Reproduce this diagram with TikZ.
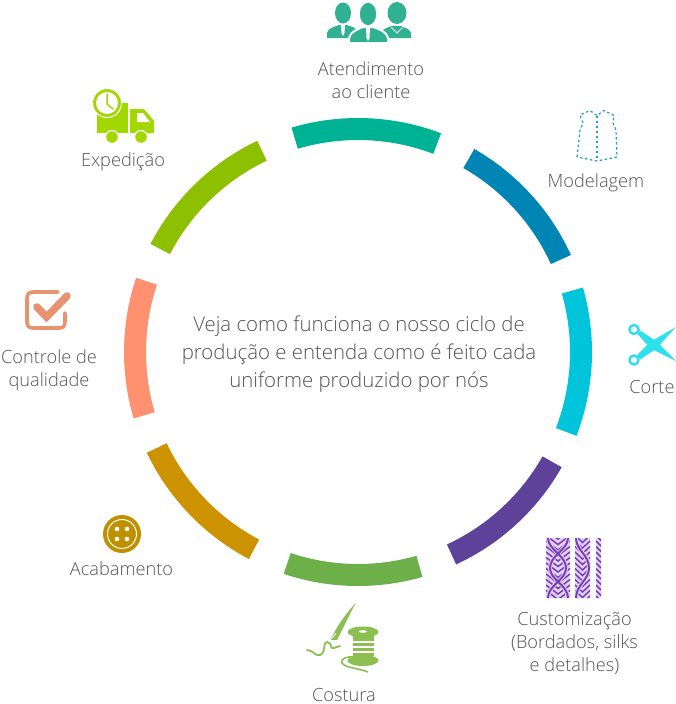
\documentclass[tikz,border=0pt]{standalone}
\usepackage{fontspec}
\setmainfont{Open Sans Light}
\definecolor{cteal}{HTML}{00B294}
\definecolor{cblue}{HTML}{0085B5}
\definecolor{ccyan}{HTML}{00C4D9}
\definecolor{cpurple}{HTML}{5E4299}
\definecolor{cgreen}{HTML}{6DB04A}
\definecolor{cgold}{HTML}{CC9200}
\definecolor{corange}{HTML}{FF9070}
\definecolor{clime}{HTML}{8CC000}
\definecolor{ipeople}{HTML}{30B292}
\definecolor{itruck}{HTML}{A2D800}
\definecolor{ipat}{HTML}{1AA3C8}
\definecolor{iscis}{HTML}{2CE0EE}
\definecolor{ifab}{HTML}{7A3DB8}
\definecolor{ifabl}{HTML}{E2D2F2}
\definecolor{ispool}{HTML}{8CBF50}
\definecolor{ibtn}{HTML}{BF9000}
\definecolor{icheck}{HTML}{E8936F}
\definecolor{txt}{HTML}{555555}
\tikzset{
  lab/.style={text=txt,font=\fontsize{18.2}{23}\selectfont,align=center,inner sep=0pt},
  mid/.style={text=txt,font=\fontsize{20.4}{28}\selectfont,align=center,inner sep=0pt},
}
\newcommand{\ringseg}[3]{%
  \fill[#3] (#1:234) arc[start angle=#1,end angle=#2,radius=234]
    -- (#2:212) arc[start angle=#2,end angle=#1,radius=212] -- cycle;}
\begin{document}
\begin{tikzpicture}[x=1pt,y=-1pt]
\useasboundingbox (0,0) rectangle (676,704);
\fill[white] (0,0) rectangle (676,704);
% ring
\begin{scope}[shift={(358,352)},y=1pt]
\ringseg{106.5}{69.2}{cteal}
\ringseg{60.2}{24.5}{cblue}
\ringseg{16}{-21}{ccyan}
\ringseg{-29.5}{-65.2}{cpurple}
\ringseg{-74}{-108.5}{cgreen}
\ringseg{-117.8}{-154.5}{cgold}
\ringseg{196.5}{161.5}{corange}
\ringseg{152.5}{115.5}{clime}
\end{scope}
% centre text
\node[mid] (centre) at (359,354) {Veja como funciona o nosso ciclo de\\produção e entenda como é feito cada\\uniforme produzido por nós};
% labels
\node[lab] (l1) at (371,80) {Atendimento\\ao cliente};
\node[lab] (l2) at (596,182.5) {Modelagem};
\node[lab] (l3) at (652,387) {Corte};
\node[lab] (l4) at (574.5,643.5) {Customização\\(Bordados, silks\\e detalhes)};
\node[lab] (l5) at (344,694.5) {Costura};
\node[lab] (l6) at (121.5,569) {Acabamento};
\node[lab] (l7) at (49,370) {Controle de\\qualidade};
\node[lab] (l8) at (123,162) {Expedição};
% people
\fill[ipeople] (327,38) -- (327,33) .. controls (328,28) and (334,27) .. (339,25) -- (347,25) .. controls (352,27) and (358,28) .. (358,33) -- (358,38) -- cycle;
\fill[ipeople] (411,38) -- (411,33) .. controls (410,29) and (405,28) .. (401,26) -- (391,26) .. controls (387,28) and (382,29) .. (381,33) -- (381,38) -- cycle;
\fill[ipeople] (343,13) ellipse (8 and 10.5);
\fill[ipeople] (397,13) ellipse (9.5 and 11);
\draw[white,line width=2pt,fill=ipeople] (349,43) -- (349,38) .. controls (350,32) and (358,29) .. (363,27) -- (373,27) .. controls (379,29) and (387,32) .. (388,38) -- (388,43) -- cycle;
\draw[white,line width=1.5pt,fill=ipeople] (368,14) ellipse (9 and 12);
\fill[white] (366,28) -- (370,28) -- (369.5,38) -- (368,41) -- (366.5,38) -- cycle;
\fill[white] (341,25) -- (345,25) -- (344.5,33) -- (343,36) -- (341.5,33) -- cycle;
\draw[white,line width=1pt] (391,27) -- (397,33) -- (403,27);
% truck
\fill[itruck] (97,103) rectangle (127.5,133);
\fill[itruck] (130,109) -- (144,109) -- (154,121) -- (154,133) -- (130,133) -- cycle;
\fill[white] (137,113) -- (143,113) -- (150,122) -- (137,122) -- cycle;
\draw[white,line width=1pt,fill=itruck] (107,103) circle (14.5);
\fill[white] (107,103) circle (11);
\draw[itruck,line width=1.5pt,line cap=round] (107,94) -- (107,104) -- (113,109);
\draw[white,line width=1.2pt,fill=itruck] (112,137) circle (6.5);
\draw[white,line width=1.2pt,fill=itruck] (141,137) circle (6.5);
% pattern
\draw[ipat,line width=1.2pt,dash pattern=on 2.5pt off 2.5pt] (577,157) -- (580,130) -- (583,123) -- (580,115) -- (590,110.5) -- (597,115.5) -- (604,110.5) -- (614,115.5) -- (613,123) -- (616,130) -- (617,157) -- (597,161) -- cycle;
\draw[ipat,line width=1.2pt,dash pattern=on 2.5pt off 2.5pt] (597,115.5) -- (597,160);
% scissors
\draw[iscis,line width=2.4pt] (634,329.5) circle (4.5);
\draw[iscis,line width=2.4pt] (634,360) circle (4.5);
\fill[iscis] (637,355) -- (650,342) -- (676,327) -- (656,349) -- (640,359.5) -- cycle;
\fill[iscis] (637.5,334) -- (650,348) -- (676,361) -- (656,341) -- (640,330.5) -- cycle;
% fabric
\begin{scope}
\clip (546,538) rectangle (570,598) (575,538) rectangle (590,598) (596,538) rectangle (601,598);
\fill[ifabl] (540,530) rectangle (610,605);
\foreach \yy in {530,535.5,...,600} {
  \draw[ifab,line width=1.5pt] (546,\yy) -- (558,\yy+9) -- (570,\yy);
  \draw[ifab,line width=1.5pt] (575,\yy) -- (582.5,\yy+7) -- (590,\yy);
  \draw[ifab,line width=1.5pt] (596,\yy) -- (601,\yy+5);
}
\draw[ifabl,line width=4pt] (548,538) .. controls (548,550) and (566,555) .. (566,568) .. controls (566,580) and (548,585) .. (548,598);
\draw[ifabl,line width=4pt] (568,538) .. controls (568,550) and (550,555) .. (550,568) .. controls (550,580) and (568,585) .. (568,598);
\draw[ifab,line width=2pt] (548,538) .. controls (548,550) and (566,555) .. (566,568) .. controls (566,580) and (548,585) .. (548,598);
\draw[ifab,line width=2pt] (568,538) .. controls (568,550) and (550,555) .. (550,568) .. controls (550,580) and (568,585) .. (568,598);
\draw[ifabl,line width=4pt] (576,538) .. controls (576,550) and (589,555) .. (589,568) .. controls (589,580) and (576,585) .. (576,598);
\draw[ifab,line width=2pt] (576,538) .. controls (576,550) and (589,555) .. (589,568) .. controls (589,580) and (576,585) .. (576,598);
\end{scope}
% spool and needle
\fill[ispool] (355.5,603) -- (337,640) -- (331,640) .. controls (334,630) and (345,615) .. (355.5,603) -- cycle;
\draw[white,line width=0.8pt] (332.5,638) -- (336,633);
\draw[ispool,line width=1.8pt,line cap=round] (307,650) .. controls (313,650) and (316,657) .. (320,655) .. controls (327,652) and (322,642) .. (327,642) .. controls (332,642) and (330,650) .. (334,648) -- (340,646);
\fill[ispool] (363,632) ellipse (15.5 and 5.5);
\fill[white] (363,631.5) ellipse (4 and 1.3);
\fill[ispool] (352.5,636) rectangle (373.5,641);
\fill[ispool] (352.5,642.5) rectangle (373.5,646);
\fill[ispool] (352.5,647.5) rectangle (373.5,651);
\fill[ispool] (352.5,652.5) rectangle (373.5,656);
\fill[ispool] (363,660.5) ellipse (15.5 and 5.5);
\draw[ispool,line width=1.6pt] (354,657) .. controls (345,656) and (340,660) .. (342,663) .. controls (345,668) and (358,668) .. (368,672);
% button
\fill[ibtn] (122,534) circle (19);
\draw[white,line width=1pt] (122,534) circle (14.5);
\foreach \hx/\hy in {117/529,127/529,117/539,127/539} \fill[white] (\hx,\hy) circle (2.3);
% check
\draw[icheck,line width=3.6pt,line cap=round,line join=round] (58,292) -- (33,292) .. controls (29,292) and (27,294) .. (27,298) -- (27,322) .. controls (27,326) and (29,328) .. (33,328) -- (59,328) .. controls (63,328) and (65,326) .. (65,322) -- (65,313);
\draw[white,line width=11pt] (35,306) -- (46.5,318) -- (69,295);
\draw[icheck,line width=7.5pt,line cap=round,line join=miter] (37,307) -- (46.5,317) -- (67,296);
\end{tikzpicture}
\end{document}
